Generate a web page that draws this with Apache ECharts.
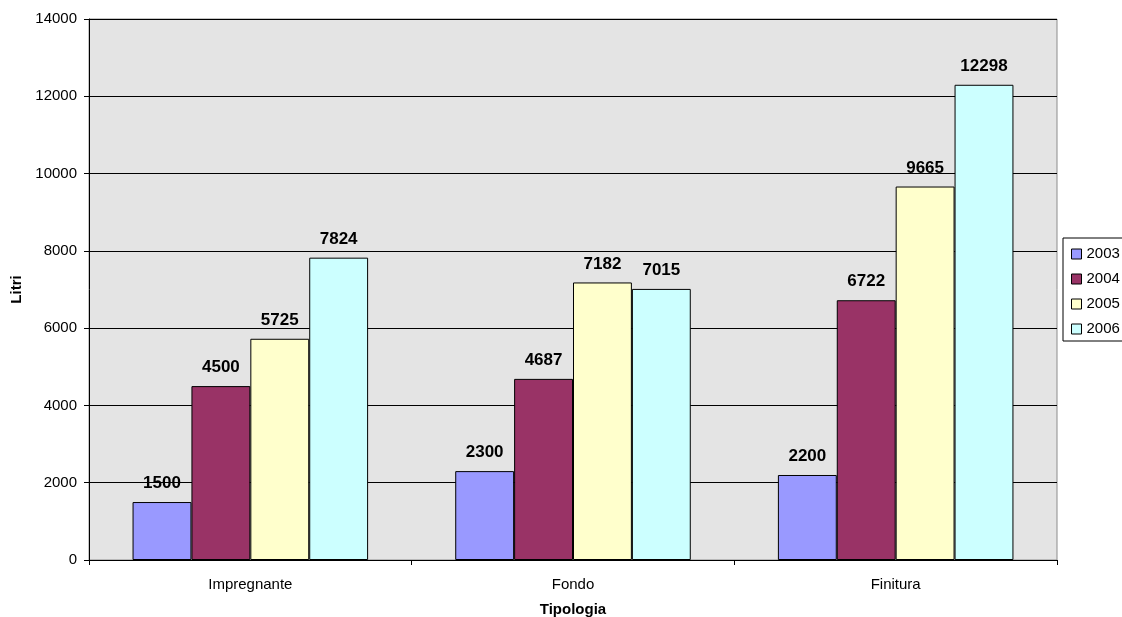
<!DOCTYPE html>
<html><head><meta charset="utf-8">
<script src="https://cdn.jsdelivr.net/npm/echarts@6/dist/echarts.min.js"></script>
<style>html,body{margin:0;padding:0;background:#fff}#c{width:1122px;height:617px}</style>
</head><body><div id="c"></div>
<script>
const categories = ['Impregnante', 'Fondo', 'Finitura'];
const seriesNames = ['2003', '2004', '2005', '2006'];
const v2003 = [1500, 2300, 2200];
const v2004 = [4500, 4687, 6722];
const v2005 = [5725, 7182, 9665];
const v2006 = [7824, 7015, 12298];
const yTicks = [0, 2000, 4000, 6000, 8000, 10000, 12000, 14000];
const colors = ['#9999FF', '#993366', '#FFFFCC', '#CCFFFF'];
const values = [v2003, v2004, v2005, v2006];

const chart = echarts.init(document.getElementById('c'), null, {renderer: 'canvas'});
const font = 'Arial, "Liberation Sans", sans-serif';
chart.setOption({
  animation: false,
  backgroundColor: '#ffffff',
  textStyle: {fontFamily: font},
  grid: {left: 89, right: 65, top: 19, bottom: 57, outerBoundsMode: 'none', containLabel: false,
         show: true, backgroundColor: '#e4e4e4', borderColor: '#8c8c8c', borderWidth: 1},
  legend: {
    orient: 'vertical', left: 1063, top: 238, itemWidth: 10, itemHeight: 10, itemGap: 9,
    padding: [8, 8, 4, 8], borderColor: '#000', borderWidth: 1, backgroundColor: '#fff',
    icon: 'rect', data: seriesNames,
    textStyle: {fontFamily: font, fontSize: 15, lineHeight: 16, color: '#000'},
    itemStyle: {borderColor: '#000', borderWidth: 1}
  },
  xAxis: {
    type: 'category', data: categories, name: 'Tipologia', nameLocation: 'middle', nameGap: 42,
    nameMoveOverlap: false,
    nameTextStyle: {fontFamily: font, fontWeight: 'bold', fontSize: 15, color: '#000'},
    axisLine: {lineStyle: {color: '#000', width: 1}},
    axisTick: {show: true, length: 5, lineStyle: {color: '#000'}},
    axisLabel: {fontFamily: font, fontSize: 15, color: '#000', margin: 17}
  },
  yAxis: {
    type: 'value', min: yTicks[0], max: yTicks[yTicks.length - 1], interval: 2000,
    name: 'Litri', nameLocation: 'middle', nameGap: 65, nameRotate: 90, nameMoveOverlap: false,
    nameTextStyle: {fontFamily: font, fontWeight: 'bold', fontSize: 15, color: '#000'},
    axisLine: {show: true, lineStyle: {color: '#000', width: 1}},
    axisTick: {show: true, length: 5, lineStyle: {color: '#000'}},
    axisLabel: {fontFamily: font, fontSize: 15, color: '#000', margin: 12, formatter: v => String(v)},
    splitLine: {show: true, lineStyle: {color: '#000', width: 1}}
  },
  series: seriesNames.map((n, i) => ({
    name: n, type: 'bar', data: values[i], barGap: '0%', barCategoryGap: '27%',
    itemStyle: {color: colors[i], borderColor: '#000', borderWidth: 1},
    label: {show: true, position: 'top', distance: 10, fontFamily: font, fontWeight: 'bold', fontSize: 17, color: '#000'}
  }))
});
</script></body></html>
